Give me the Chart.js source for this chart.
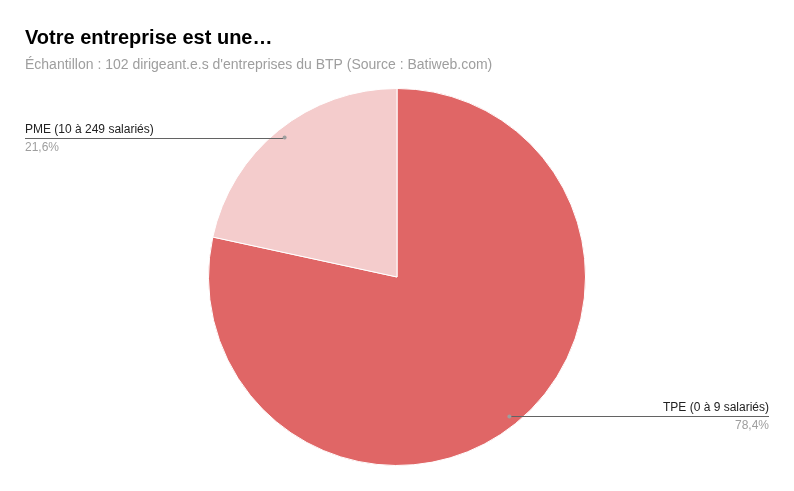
<!DOCTYPE html>
<html><head><meta charset="utf-8">
<script src="https://cdn.jsdelivr.net/npm/chart.js@4"></script>
<style>html,body{margin:0;background:#fff}#wrap{width:794px;height:491px}</style>
</head><body><div id="wrap"><canvas id="c"></canvas></div>
<script>
const titleText = 'Votre entreprise est une…';
const subtitleText = "Échantillon : 102 dirigeant.e.s d'entreprises du BTP (Source : Batiweb.com)";
const categories = ['TPE (0 à 9 salariés)', 'PME (10 à 249 salariés)'];
const values = [78.4, 21.6];
const colors = ['#e06666', '#f4cccc'];

const labelPlugin = {
  id: 'labels',
  afterDraw(chart) {
    const ctx = chart.ctx;
    ctx.save();
    ctx.fillStyle = '#000';
    ctx.textAlign = 'left';
    ctx.textBaseline = 'alphabetic';
    ctx.font = 'bold 20px Arial, "Liberation Sans"';
    ctx.fillText(titleText, 25, 44);
    ctx.fillStyle = '#9e9e9e';
    ctx.font = '14px Arial, "Liberation Sans"';
    ctx.fillText(subtitleText, 25, 69);

    const arcs = chart.getDatasetMeta(0).data;
    arcs.forEach((arc, i) => {
      const mid = (arc.startAngle + arc.endAngle) / 2;
      const r = arc.outerRadius * 0.95;
      const px = arc.x + Math.cos(mid) * r;
      const py = arc.y + Math.sin(mid) * r;
      const right = px > arc.x;
      const ex = right ? 769 : 25;
      ctx.strokeStyle = '#636363';
      ctx.lineWidth = 1;
      ctx.beginPath();
      ctx.moveTo(px, Math.round(py) + 0.5);
      ctx.lineTo(ex, Math.round(py) + 0.5);
      ctx.stroke();
      ctx.fillStyle = '#9e9e9e';
      ctx.beginPath();
      ctx.arc(px, py, 2, 0, Math.PI * 2);
      ctx.fill();
      ctx.textAlign = right ? 'right' : 'left';
      ctx.fillStyle = '#222';
      ctx.font = '12px Arial, "Liberation Sans"';
      ctx.fillText(categories[i], ex, py - 5);
      ctx.fillStyle = '#9e9e9e';
      ctx.fillText(values[i].toFixed(1).replace('.', ',') + '%', ex, py + 13);
    });
    ctx.restore();
  }
};

new Chart(document.getElementById('c'), {
  type: 'pie',
  data: {
    labels: categories,
    datasets: [{ data: values, backgroundColor: colors, borderColor: '#fff', borderWidth: 1 }]
  },
  options: {
    responsive: true,
    maintainAspectRatio: false,
    animation: false,
    layout: { padding: { top: 88, bottom: 25 } },
    plugins: { legend: { display: false }, tooltip: { enabled: false } }
  },
  plugins: [labelPlugin]
});
</script></body></html>
